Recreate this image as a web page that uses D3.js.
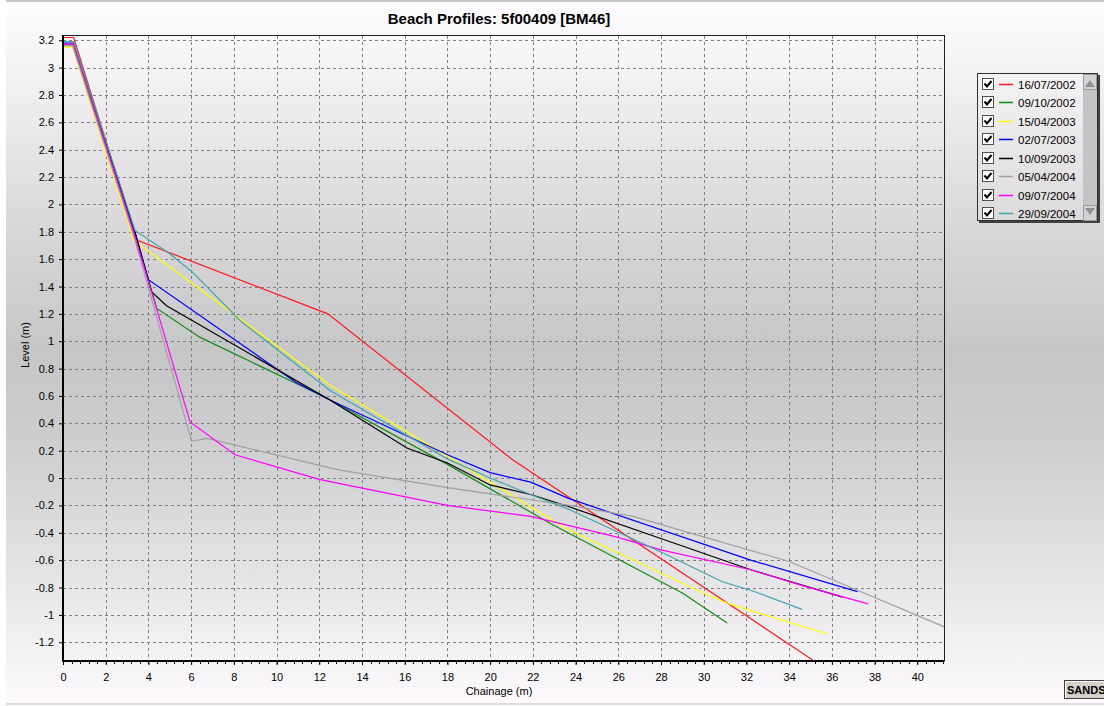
<!DOCTYPE html>
<html>
<head>
<meta charset="utf-8">
<script src="https://cdn.jsdelivr.net/npm/d3@7"></script>
<style>
body { margin: 0; background: #fff; }
text { font-family: "Liberation Sans", Arial, sans-serif; }
</style>
</head>
<body>
<div id="chart"></div>
<script>
// survey dates (legend order) and one profile per date: [chainage, level]
var dates = ["16/07/2002", "09/10/2002", "15/04/2003", "02/07/2003",
             "10/09/2003", "05/04/2004", "09/07/2004", "29/09/2004"];

var p16072002 = [[0,3.22],[0.5,3.22],[3.45,1.74],[12.4,1.2],[21,0.14],[35.2,-1.34]];
var p09102002 = [[0,3.16],[0.45,3.16],[3.4,1.77],[4.39,1.24],[6.4,1.03],[10.8,0.7],[12.4,0.58],
                 [18,0.1],[22.8,-0.33],[29,-0.84],[31.1,-1.06]];
var p15042003 = [[0,3.15],[0.45,3.15],[3.3,1.74],[12.5,0.68],[23.7,-0.38],[30,-0.84],[31.2,-0.92],[35.8,-1.14]];
var p02072003 = [[0,3.18],[0.5,3.18],[3.4,1.78],[4.0,1.45],[10.9,0.7],[12.5,0.57],[18,0.17],[20,0.04],
                 [21.9,-0.03],[23.7,-0.15],[32.2,-0.6],[37.2,-0.83]];
var p10092003 = [[0,3.17],[0.5,3.17],[3.4,1.78],[4.15,1.36],[4.85,1.26],[12.5,0.57],[16.1,0.22],
                 [18,0.11],[20,-0.05],[21.9,-0.12],[23.7,-0.21],[28.7,-0.48],[32.2,-0.67],[36.5,-0.87]];
var p05042004 = [[0,3.16],[0.45,3.16],[3.35,1.75],[6.02,0.27],[6.75,0.29],[12.9,0.06],[18,-0.07],[23.7,-0.2],
                 [26.7,-0.28],[30,-0.43],[34,-0.61],[37.2,-0.82],[41.3,-1.09]];
var p09072004 = [[0,3.17],[0.5,3.17],[3.3,1.8],[4.3,1.28],[5.95,0.41],[8.05,0.17],[12,-0.01],[12.97,-0.04],
                 [18,-0.2],[21.9,-0.28],[25.9,-0.43],[28,-0.525],[32.2,-0.67],[34.7,-0.79],[37.7,-0.92]];
var p29092004 = [[0,3.19],[0.5,3.19],[3.37,1.81],[5,1.64],[6.1,1.5],[8.3,1.15],[12.5,0.64],[18,0.14],[20,0],
                 [21.9,-0.12],[23.7,-0.23],[28,-0.54],[30.9,-0.76],[32.2,-0.82],[34.6,-0.96]];

var profiles = [p16072002, p09102002, p15042003, p02072003, p10092003, p05042004, p09072004, p29092004];

var xTicks = d3.range(0, 41, 2);
var yTicks = d3.range(-6, 17).map(function(i){ return i / 5; });

var colors = ["#ff1818", "#108c10", "#ffff00", "#0000ff", "#000000", "#a0a0a0", "#ff00ff", "#40a4ac"];

var W = 1104, H = 706;
var pLeft = 63, pRight = 944, pTop = 36, pBottom = 661;

var svg = d3.select("#chart").append("svg").attr("width", W).attr("height", H);

var defs = svg.append("defs");
var grad = defs.append("linearGradient").attr("id", "bg")
	.attr("x1", 0).attr("y1", 0).attr("x2", 0).attr("y2", 1);
[[0,"#fefcfe"],[0.08,"#f6f4f6"],[0.2,"#e8e6e8"],[0.35,"#d6d4d6"],[0.5,"#c6c6c8"],
 [0.62,"#cdcdcf"],[0.75,"#dcdbdd"],[0.86,"#ebe9eb"],[0.94,"#f5f3f5"],[1,"#fdf9fd"]].forEach(function(s){
	grad.append("stop").attr("offset", s[0]).attr("stop-color", s[1]);
});
var lgrad = defs.append("linearGradient").attr("id", "lbg")
	.attr("x1", 0).attr("y1", 0).attr("x2", 0).attr("y2", 1);
lgrad.append("stop").attr("offset", 0).attr("stop-color", "#f4f2f4");
lgrad.append("stop").attr("offset", 1).attr("stop-color", "#dcdadc");
defs.append("clipPath").attr("id", "plotclip").append("rect")
	.attr("x", pLeft).attr("y", pTop).attr("width", pRight - pLeft).attr("height", pBottom - pTop);

svg.append("rect").attr("x", 6).attr("y", 2).attr("width", W - 6).attr("height", 701).attr("fill", "url(#bg)");
svg.append("rect").attr("x", 6).attr("y", 0).attr("width", W - 6).attr("height", 2).attr("fill", "#c8c6c8");
svg.append("rect").attr("x", 6).attr("y", 703).attr("width", W - 6).attr("height", 2).attr("fill", "#dcdadc");

var x = d3.scaleLinear().domain([0, 41.25]).range([pLeft, pRight]);
var y = d3.scaleLinear().domain([-1.337, 3.231]).range([pBottom, pTop]);

// grid
svg.append("g").selectAll("line").data(xTicks.slice(1)).join("line")
	.attr("x1", function(d){ return Math.round(x(d)) + 0.5; }).attr("x2", function(d){ return Math.round(x(d)) + 0.5; })
	.attr("y1", pTop).attr("y2", pBottom)
	.attr("stroke", "#808080").attr("stroke-dasharray", "3,3");
svg.append("g").selectAll("line").data(yTicks).join("line")
	.attr("x1", pLeft).attr("x2", pRight)
	.attr("y1", function(d){ return Math.round(y(d)) + 0.5; }).attr("y2", function(d){ return Math.round(y(d)) + 0.5; })
	.attr("stroke", "#808080").attr("stroke-dasharray", "3,3");

// profiles
var line = d3.line().x(function(d){ return x(d[0]); }).y(function(d){ return y(d[1]); });
svg.append("g").attr("clip-path", "url(#plotclip)")
	.selectAll("path").data(profiles).join("path")
	.attr("d", line).attr("fill", "none")
	.attr("stroke", function(d, i){ return colors[i]; })
	.attr("stroke-width", 1.2);

// frame
svg.append("rect").attr("x", pLeft).attr("y", pTop - 0.5).attr("width", pRight - pLeft + 0.5).attr("height", pBottom - pTop)
	.attr("fill", "none").attr("stroke", "#202020").attr("stroke-width", 1);

// axes
var xMinor = d3.range(0, 41.3, 0.4);
svg.append("g").selectAll("line").data(xMinor).join("line")
	.attr("x1", function(d){ return Math.round(x(d)) + 0.5; }).attr("x2", function(d){ return Math.round(x(d)) + 0.5; })
	.attr("y1", pBottom).attr("y2", pBottom + 3).attr("stroke", "#000");

var xAxis = svg.append("g").attr("transform", "translate(0," + pBottom + ")")
	.call(d3.axisBottom(x).tickValues(xTicks).tickSize(4).tickPadding(8).tickFormat(d3.format("d")));
xAxis.select(".domain").remove();
xAxis.selectAll("text").attr("font-size", 11).attr("fill", "#000")
	.style("font-family", "'Liberation Sans', Arial, sans-serif");

var yAxis = svg.append("g").attr("transform", "translate(" + pLeft + ",0)")
	.call(d3.axisLeft(y).tickValues(yTicks).tickSize(4).tickPadding(5)
		.tickFormat(function(d){ return String(+d.toFixed(1)); }));
yAxis.select(".domain").remove();
yAxis.selectAll("text").attr("font-size", 11).attr("fill", "#000")
	.style("font-family", "'Liberation Sans', Arial, sans-serif");

svg.append("line").attr("x1", pLeft).attr("x2", pLeft).attr("y1", pTop - 1).attr("y2", pBottom + 1)
	.attr("stroke", "#000").attr("stroke-width", 2);
svg.append("line").attr("x1", pLeft - 1).attr("x2", pRight + 0.5).attr("y1", pBottom).attr("y2", pBottom)
	.attr("stroke", "#000").attr("stroke-width", 2);

// titles
svg.append("text").attr("x", 499).attr("y", 24).attr("text-anchor", "middle")
	.attr("font-size", 15).attr("font-weight", "bold").text("Beach Profiles: 5f00409 [BM46]");
svg.append("text").attr("x", 499).attr("y", 695).attr("text-anchor", "middle")
	.attr("font-size", 11).text("Chainage (m)");
svg.append("text").attr("transform", "translate(29,345) rotate(-90)").attr("text-anchor", "middle")
	.attr("font-size", 11).text("Level (m)");

// legend
var lg = svg.append("g");
lg.append("rect").attr("x", 979).attr("y", 75).attr("width", 121).attr("height", 148).attr("fill", "#404040");
lg.append("rect").attr("x", 977.5).attr("y", 73.5).attr("width", 120).attr("height", 147)
	.attr("fill", "url(#lbg)").attr("stroke", "#303030");
// scrollbar
lg.append("rect").attr("x", 1083).attr("y", 74).attr("width", 14).attr("height", 146).attr("fill", "#c4c4c4");
[[74, "M1085,87 L1090,80 L1095,87 Z"], [205, "M1085,208 L1090,215 L1095,208 Z"]].forEach(function(b){
	lg.append("rect").attr("x", 1083.5).attr("y", b[0] + 0.5).attr("width", 13).attr("height", 15)
		.attr("fill", "#d4d2d4").attr("stroke", "#9a9a9a");
	lg.append("path").attr("d", b[1]).attr("fill", "#909090");
});
var rows = lg.selectAll("g.item").data(dates).join("g").attr("class", "item")
	.attr("transform", function(d, i){ return "translate(0," + Math.round(84 + i * 18.45) + ")"; });
rows.append("rect").attr("x", 982.5).attr("y", -5.5).attr("width", 11).attr("height", 11)
	.attr("fill", "#fff").attr("stroke", "#505050");
rows.append("path").attr("d", "M984.5,-0.5 L987,2.5 L991.5,-3").attr("fill", "none")
	.attr("stroke", "#000").attr("stroke-width", 2);
rows.append("line").attr("x1", 999).attr("x2", 1013).attr("y1", 0.5).attr("y2", 0.5)
	.attr("stroke", function(d, i){ return colors[i]; }).attr("stroke-width", 1.5);
rows.append("text").attr("x", 1018).attr("y", 4.5).attr("font-size", 11.5).text(function(d){ return d; });

// SANDS button
var btn = svg.append("g");
btn.append("rect").attr("x", 1064.5).attr("y", 680.5).attr("width", 42).attr("height", 18)
	.attr("fill", "#d4d0c8").attr("stroke", "#404040");
btn.append("line").attr("x1", 1065).attr("x2", 1104).attr("y1", 681.5).attr("y2", 681.5).attr("stroke", "#fff");
btn.append("line").attr("x1", 1065.5).attr("x2", 1065.5).attr("y1", 681).attr("y2", 698).attr("stroke", "#fff");
btn.append("text").attr("x", 1067).attr("y", 694).attr("font-size", 11).attr("font-weight", "bold").text("SANDS");
</script>
</body>
</html>
